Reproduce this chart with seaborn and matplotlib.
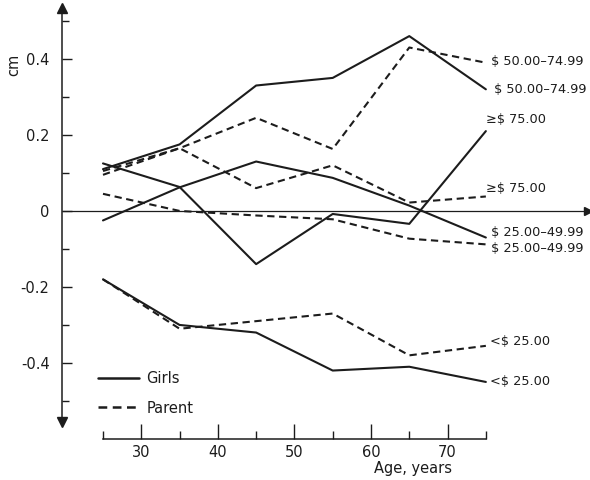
import matplotlib
matplotlib.use('Agg')
import matplotlib.pyplot as plt
from matplotlib.lines import Line2D
import seaborn as sns
import pandas as pd

# Edad (años) y diferencia en cm por grupo de ingresos
ages = [25, 35, 45, 55, 65, 75]

girls_lt25 = [-0.18, -0.30, -0.32, -0.42, -0.41, -0.45]
parent_lt25 = [-0.18, -0.31, -0.29, -0.27, -0.38, -0.355]
girls_25_49 = [-0.025, 0.062, 0.13, 0.087, 0.014, -0.07]
parent_25_49 = [0.045, 0.0, -0.012, -0.022, -0.073, -0.088]
girls_50_74 = [0.11, 0.175, 0.33, 0.35, 0.46, 0.32]
parent_50_74 = [0.105, 0.165, 0.245, 0.163, 0.43, 0.39]
girls_ge75 = [0.125, 0.063, -0.14, -0.008, -0.034, 0.21]
parent_ge75 = [0.095, 0.165, 0.06, 0.12, 0.022, 0.038]

series = {
    ('Girls', '$ 50.00–74.99'): girls_50_74,
    ('Parent', '$ 50.00–74.99'): parent_50_74,
    ('Girls', '≥$ 75.00'): girls_ge75,
    ('Parent', '≥$ 75.00'): parent_ge75,
    ('Girls', '$ 25.00–49.99'): girls_25_49,
    ('Parent', '$ 25.00–49.99'): parent_25_49,
    ('Parent', '<$ 25.00'): parent_lt25,
    ('Girls', '<$ 25.00'): girls_lt25,
}

rows = []
for (who, income), vals in series.items():
    for a, v in zip(ages, vals):
        rows.append({'age': a, 'cm': v, 'who': who, 'key': who + income})
df = pd.DataFrame(rows)

sns.set_style('white')
plt.rcParams['font.family'] = ['DejaVu Sans']
ink = '#1c1c1c'

fig = plt.figure(figsize=(5.9, 4.8), dpi=100)
ax = fig.add_axes([0, 0, 1, 1])
ax.set_xlim(11.55, 88.6)
ax.set_ylim(-0.708, 0.555)

sns.lineplot(data=df, x='age', y='cm', style='who', units='key', estimator=None,
             color=ink, dashes={'Girls': '', 'Parent': (3.5, 2.2)},
             linewidth=1.5, legend=False, ax=ax)

# etiquetas a la derecha de cada línea (desplazamiento en puntos)
offsets = {
    ('Parent', '$ 50.00–74.99'): (4, 1),
    ('Girls', '$ 50.00–74.99'): (6, 0),
    ('Girls', '≥$ 75.00'): (0, 8.5),
    ('Parent', '≥$ 75.00'): (0, 5.5),
    ('Girls', '$ 25.00–49.99'): (4, 3.5),
    ('Parent', '$ 25.00–49.99'): (4, -3),
    ('Parent', '<$ 25.00'): (3, 3),
    ('Girls', '<$ 25.00'): (3, 0),
}
for (who, income), vals in series.items():
    ax.annotate(income, xy=(ages[-1], vals[-1]), xytext=offsets[(who, income)],
                textcoords='offset points', ha='left', va='center',
                fontsize=9.3, color=ink)

# ejes estilo dibujo técnico
yaxis_x = 19.65
for s in ['top', 'right']:
    ax.spines[s].set_visible(False)
ax.spines['left'].set_position(('data', yaxis_x))
ax.spines['left'].set_bounds(-0.55, 0.53)
ax.spines['bottom'].set_position(('data', -0.6))
ax.spines['bottom'].set_bounds(25, 75)
for s in ['left', 'bottom']:
    ax.spines[s].set_color(ink)
    ax.spines[s].set_linewidth(1.1)

ax.set_yticks([-0.4, -0.2, 0, 0.2, 0.4])
ax.set_yticklabels(['-0.4', '-0.2', '0', '0.2', '0.4'])
ax.set_yticks([-0.5, -0.3, -0.1, 0.1, 0.3, 0.5], minor=True)
ax.set_xticks([30, 40, 50, 60, 70])
ax.set_xticks([25, 35, 45, 55, 65, 75], minor=True)
ax.tick_params(which='both', left=True, bottom=True)
ax.tick_params(axis='y', which='major', direction='in', length=7, width=1,
               pad=9, labelsize=10.5, colors=ink)
ax.tick_params(axis='y', which='minor', direction='in', length=5, width=1, colors=ink)
ax.tick_params(axis='x', which='major', direction='in', length=11, width=1,
               pad=4, labelsize=10.5, colors=ink)
ax.tick_params(axis='x', which='minor', direction='in', length=5.5, width=1, colors=ink)
ax.set_xlabel('')
ax.set_ylabel('')

# línea del cero con flecha y flechas del eje y
ax.plot([yaxis_x, 88.2], [0, 0], color=ink, lw=0.9, solid_capstyle='butt')
ax.plot([88.3], [0], marker='>', ms=6, color=ink, clip_on=False)
ax.plot([yaxis_x], [0.535], marker='^', ms=7, color=ink, clip_on=False)
ax.plot([yaxis_x], [-0.555], marker='v', ms=7, color=ink, clip_on=False)

fig.text(14 / 590, 1 - 65 / 480, 'cm', rotation=90, ha='center', va='center',
         fontsize=10.5, color=ink)
fig.text(413 / 590, 1 - 468 / 480, 'Age, years', ha='center', va='center',
         fontsize=10.5, color=ink)

handles = [Line2D([], [], color=ink, lw=1.8),
           Line2D([], [], color=ink, lw=1.8, dashes=(3.5, 2.2))]
ax.legend(handles, ['Girls', 'Parent'], loc='upper left',
          bbox_to_anchor=(98 / 590, 1 - 371 / 480), frameon=False,
          fontsize=10.5, handlelength=2.8, handletextpad=0.5,
          labelspacing=1.0, borderpad=0, borderaxespad=0, labelcolor=ink)

fig.savefig('out.png', dpi=100)
